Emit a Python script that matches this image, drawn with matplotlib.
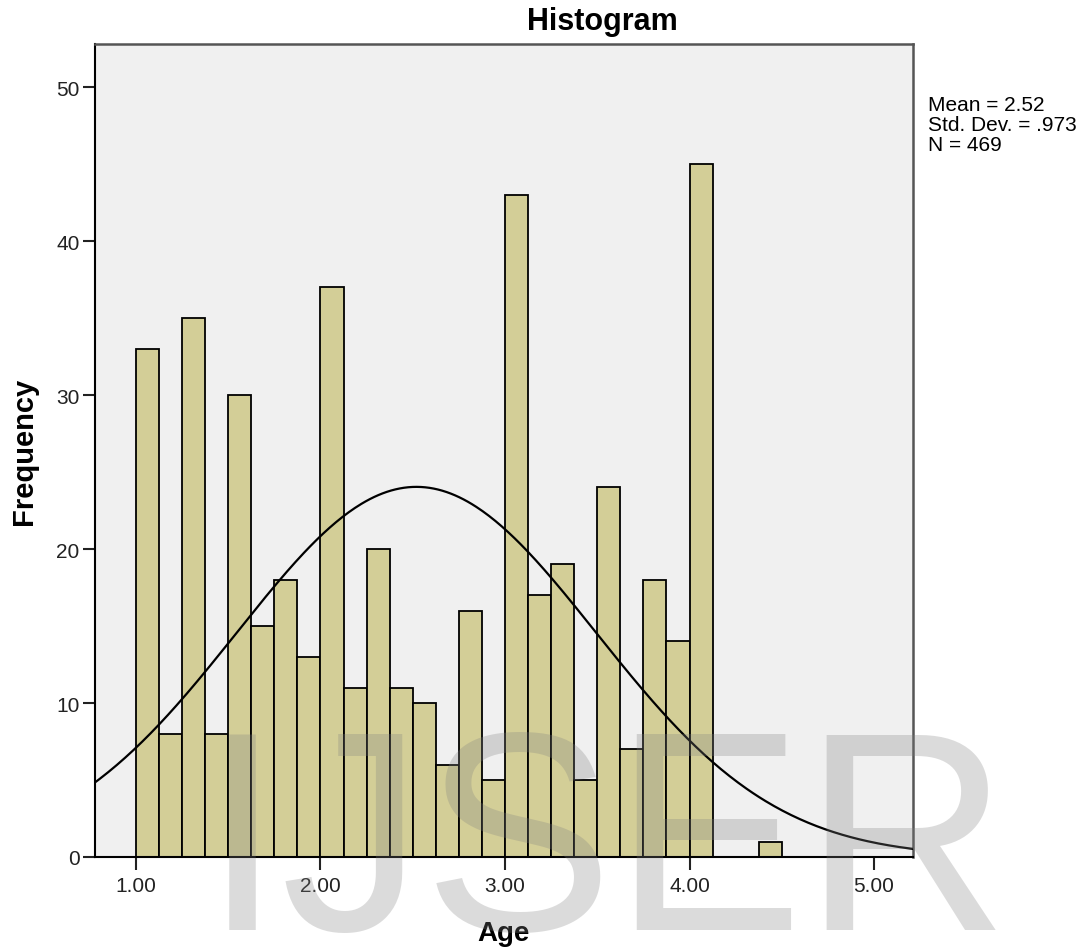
import numpy as np
import matplotlib.pyplot as plt

plt.rcParams['font.family'] = ['Liberation Sans', 'DejaVu Sans']

# histogram of Age, bins of 0.125 starting at 1.00
bin_start = 1.0
bin_width = 0.125
counts = [33, 8, 35, 8, 30, 15, 18, 13, 37, 11, 20, 11, 10, 6, 16, 5,
          43, 17, 19, 5, 24, 7, 18, 14, 45, 0, 0, 1]
mean_val = 2.52
sd_val = 0.973
n_val = 469
xticks = [1.0, 2.0, 3.0, 4.0, 5.0]
yticks = [0, 10, 20, 30, 40, 50]

fig = plt.figure(figsize=(10.89, 9.53), dpi=100)
ax = fig.add_axes([0.0872, 0.0997, 0.7512, 0.8531])
ax.set_facecolor('#f0f0f0')

lefts = bin_start + bin_width * np.arange(len(counts))
ax.bar(lefts, counts, width=bin_width, align='edge', color='#d3ce97',
       edgecolor='black', linewidth=1.3, zorder=2)

# normal curve scaled to counts
xs = np.linspace(0.7, 5.3, 400)
curve = n_val * bin_width / (sd_val * np.sqrt(2 * np.pi)) * np.exp(-0.5 * ((xs - mean_val) / sd_val) ** 2)
ax.plot(xs, curve, color='black', linewidth=1.6, zorder=3)

ax.set_xlim(0.778, 5.211)
ax.set_ylim(0, 52.8)
ax.set_xticks(xticks)
ax.set_xticklabels(['%.2f' % t for t in xticks])
ax.set_yticks(yticks)
ax.tick_params(length=9, width=1.5, labelsize=15, colors='#222222')
ax.tick_params(axis='y', pad=2)
ax.tick_params(axis='x', pad=5)
ax.spines['left'].set_linewidth(1.5)
ax.spines['bottom'].set_linewidth(1.5)
ax.spines['top'].set_color('#555555')
ax.spines['right'].set_color('#555555')
ax.spines['top'].set_linewidth(1.8)
ax.spines['right'].set_linewidth(1.8)

fig.text(0.553, 0.977, 'Histogram', fontsize=22, fontweight='bold', ha='center', va='center')
ax.set_xlabel('Age', fontsize=20, fontweight='bold', labelpad=18)
ax.set_ylabel('Frequency', fontsize=21, fontweight='bold', labelpad=13)

fig.text(0.852, 0.899, 'Mean = %.2f\nStd. Dev. = .973\nN = %d' % (mean_val, n_val),
         fontsize=15, va='top', ha='left', linespacing=1.05)

# watermark
fig.text(0.186, 0.024, 'IJSER', fontsize=205, color='#808080', alpha=0.28,
         ha='left', va='baseline', zorder=10)

plt.savefig('out.png', dpi=100)
